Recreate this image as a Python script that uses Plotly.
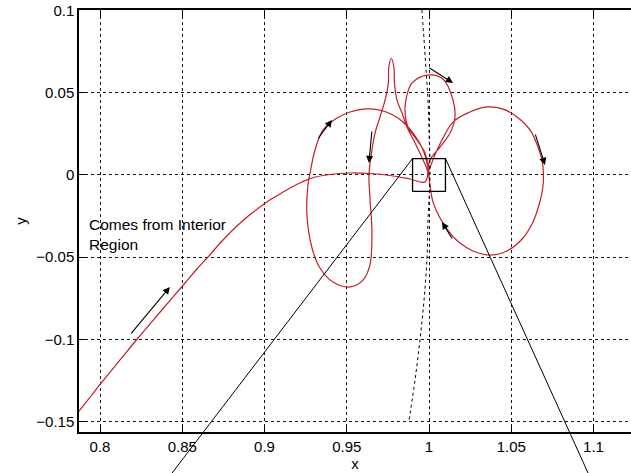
import plotly.graph_objects as go

# ---- data ----
# red trajectory: incoming branch + loops around the point (1, 0)
orbit_x = [0.78359, 0.78784, 0.79453, 0.80122, 0.81216, 0.82310, 0.83708, 0.85167, 0.85836, 0.86565,
           0.87477, 0.88389, 0.89240, 0.90152, 0.90942, 0.91672, 0.92280, 0.92888, 0.93982, 0.95198,
           0.96413, 0.97629, 0.98845, 0.99757,
           # middle loop
           0.9994, 0.9976, 0.9927, 0.9872, 0.9854, 0.9866, 0.9897, 0.9988, 1.0085, 1.0146,
           1.0158, 1.0128, 1.0067, 1.0006, 0.9994,
           # right loop
           1.0049, 1.0146, 1.0249, 1.0353, 1.0450, 1.0535, 1.0614, 1.06626, 1.06869, 1.06960,
           1.06900, 1.06687, 1.06322, 1.05714, 1.0474, 1.0371, 1.0267, 1.0188, 1.0128, 1.0067,
           1.0024, 1.0006, 0.9994,
           # spike + left loop
           0.9964, 0.9915, 0.9866, 0.9836, 0.9805, 0.9790, 0.9787, 0.9771, 0.9755, 0.9753,
           0.9733, 0.9702, 0.9672, 0.9653, 0.9635, 0.9641, 0.9653, 0.9641, 0.9599, 0.9520,
           0.9416, 0.9337, 0.9289, 0.9258, 0.9264, 0.9277, 0.9307, 0.9356, 0.9441, 0.9520,
           0.9599, 0.9702, 0.9781, 0.9842, 0.9903, 0.9964, 0.9994, 1.0006]
orbit_y = [-0.14842, -0.14294, -0.13443, -0.12591, -0.11253, -0.09915, -0.08273, -0.06569, -0.05779, -0.04988,
           -0.03954, -0.03041, -0.02311, -0.01642, -0.01156, -0.00730, -0.00426, -0.00182, 0.00030, 0.00122,
           0.00091, -0.00030, -0.00243, -0.00426,
           0.0043, 0.0134, 0.0213, 0.0292, 0.0395, 0.0487, 0.0560, 0.0608, 0.0584, 0.0456,
           0.0353, 0.0255, 0.0170, 0.0091, 0.0018,
           0.0152, 0.0322, 0.0383, 0.0414, 0.0401, 0.0353, 0.0274, 0.01703, 0.00912, 0.0000,
           -0.00912, -0.01825, -0.02859, -0.03832, -0.0462, -0.0487, -0.0462, -0.0414, -0.0353, -0.0262,
           -0.0164, -0.0061, 0.0018,
           0.0091, 0.0195, 0.0292, 0.0377, 0.0456, 0.0560, 0.0651, 0.0710, 0.0651, 0.0560,
           0.0456, 0.0353, 0.0255, 0.0152, 0.0000, -0.0140, -0.0347, -0.0547, -0.0639, -0.0681,
           -0.0651, -0.0566, -0.0444, -0.0243, -0.0061, 0.0012, 0.0152, 0.0274, 0.0347, 0.0383,
           0.0401, 0.0395, 0.0365, 0.0322, 0.0255, 0.0152, 0.0043, -0.0080]

# dotted (zero-velocity type) curve
dotted_x = [0.9957, 0.9970, 0.9982, 0.9994, 1.0000, 1.0006, 0.9994, 0.9988, 0.9970, 0.9945, 0.9915, 0.9878]
dotted_y = [0.1004, 0.0821, 0.0639, 0.0456, 0.0274, 0.0000, -0.0274, -0.0499, -0.0760, -0.1004, -0.1247, -0.1496]

# zoom box
box_x = [0.99, 1.01]
box_y = [-0.01, 0.01]

# magnification lines (start at box top corners, run off the bottom)
zoomline_x0 = [0.99, 1.01]
zoomline_y0 = [0.01, 0.01]
zoomline_x1 = [0.8438, 1.0967]
zoomline_y1 = [-0.1813, -0.1813]

# direction arrows: tail -> head
arrow_tail_x = [0.8182, 0.9319, 0.9653, 0.9994, 1.0644, 1.0146]
arrow_tail_y = [-0.0973, 0.0213, 0.0274, 0.0657, 0.0255, -0.0395]
arrow_head_x = [0.8425, 0.9410, 0.9635, 1.0146, 1.0705, 1.0079]
arrow_head_y = [-0.0681, 0.0335, 0.0073, 0.0560, 0.0061, -0.0286]

x_ticks = [0.8, 0.85, 0.9, 0.95, 1.0, 1.05, 1.1]
x_ticklabels = ["0.8", "0.85", "0.9", "0.95", "1", "1.05", "1.1"]
y_ticks = [0.1, 0.05, 0.0, -0.05, -0.1, -0.15]
y_ticklabels = ["0.1", "0.05", "0", "\u22120.05", "\u22120.1", "\u22120.15"]

note_text = "Comes from Interior<br>Region"
note_x, note_y = 0.7921, -0.0359

x_range = [0.78723, 1.12280]
y_range = [-0.15633, 0.10036]

FONT = "Liberation Sans, Arial, sans-serif"

fig = go.Figure()
fig.add_trace(go.Scatter(x=orbit_x, y=orbit_y, mode="lines",
                         line=dict(color="rgb(195,30,40)", width=1.2, shape="spline", smoothing=1.0),
                         showlegend=False, hoverinfo="skip"))
fig.add_trace(go.Scatter(x=dotted_x, y=dotted_y, mode="lines",
                         line=dict(color="black", width=1, dash="dot", shape="spline"),
                         showlegend=False, hoverinfo="skip"))

fig.add_shape(type="rect", xref="x", yref="y", x0=box_x[0], x1=box_x[1], y0=box_y[0], y1=box_y[1],
              line=dict(color="black", width=1.3))


def to_px(v, r):
    return (v - r[0]) / (r[1] - r[0])


for i in range(len(zoomline_x0)):
    fig.add_shape(type="line", xref="paper", yref="paper",
                  x0=to_px(zoomline_x0[i], x_range), y0=to_px(zoomline_y0[i], y_range),
                  x1=to_px(zoomline_x1[i], x_range), y1=to_px(zoomline_y1[i], y_range),
                  line=dict(color="black", width=1))

for tx, ty, hx, hy in zip(arrow_tail_x, arrow_tail_y, arrow_head_x, arrow_head_y):
    fig.add_annotation(x=hx, y=hy, ax=tx, ay=ty, xref="x", yref="y", axref="x", ayref="y",
                       text="", showarrow=True, arrowhead=2, arrowsize=1.3, arrowwidth=1.1,
                       arrowcolor="black")

fig.add_annotation(x=note_x, y=note_y, xref="x", yref="y", text=note_text, showarrow=False,
                   xanchor="left", yanchor="middle", align="left",
                   font=dict(family=FONT, size=15.5, color="black"))

fig.update_layout(
    width=631, height=473,
    margin=dict(l=79, r=0, t=10, b=41, autoexpand=False),
    paper_bgcolor="white", plot_bgcolor="white",
    font=dict(family=FONT, size=15, color="black"),
    showlegend=False,
)
fig.update_xaxes(range=x_range, tickvals=x_ticks, ticktext=x_ticklabels, automargin=False,
                 showline=True, linecolor="black", linewidth=1.5, mirror="ticks",
                 ticks="inside", ticklen=6, tickcolor="black",
                 showgrid=True, gridcolor="rgb(20,20,20)", gridwidth=1, griddash="dot",
                 zeroline=False, title=dict(text="x", standoff=2, font=dict(size=15)))
fig.update_yaxes(range=y_range, tickvals=y_ticks, ticktext=y_ticklabels, automargin=False,
                 showline=True, linecolor="black", linewidth=1.5, mirror=False,
                 ticks="inside", ticklen=6, tickcolor="black",
                 showgrid=True, gridcolor="rgb(20,20,20)", gridwidth=1, griddash="dot",
                 zeroline=False, title=dict(text="y", standoff=6, font=dict(size=15)))

fig.write_html("out.html", config={"displayModeBar": False},
               post_script="document.body.style.margin='0';document.body.style.overflow='hidden';")
